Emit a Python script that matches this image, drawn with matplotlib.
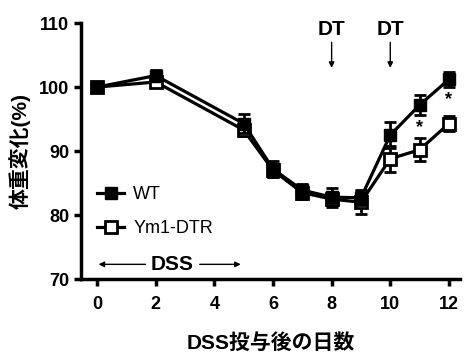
import numpy as np
import matplotlib
matplotlib.use("Agg")
from matplotlib import pyplot as plt
from matplotlib.lines import Line2D

plt.rcParams['font.family'] = ['Liberation Sans', 'Noto Sans CJK JP', 'DejaVu Sans']

# データ
days = [0, 2, 5, 6, 7, 8, 9, 10, 11, 12]
wt_mean = [100.0, 101.8, 94.3, 87.2, 83.9, 82.8, 82.7, 92.5, 97.2, 101.2]
wt_err = [0.5, 0.8, 1.5, 1.2, 1.0, 1.5, 1.2, 2.0, 1.5, 1.2]
ym1_mean = [100.0, 100.8, 93.3, 87.0, 83.5, 82.5, 82.0, 88.8, 90.2, 94.3]
ym1_err = [0.5, 0.6, 1.0, 1.0, 1.0, 1.0, 1.8, 2.0, 1.8, 1.2]

x_ticks = [0, 2, 4, 6, 8, 10, 12]
y_ticks = [70, 80, 90, 100, 110]
dt_days = [8, 10]
star_points = [(11, 93.6), (12, 98.0)]

fig = plt.figure(figsize=(4.68, 3.61), dpi=100)
ax = fig.add_axes([0.173, 0.227, 0.81, 0.709])

ax.errorbar(days, ym1_mean, yerr=ym1_err, color='black', lw=2.3,
            marker='s', markersize=8, markerfacecolor='white', markeredgewidth=2,
            capsize=4.3, capthick=2, elinewidth=2, zorder=3)
ax.errorbar(days, wt_mean, yerr=wt_err, color='black', lw=2.3,
            marker='s', markersize=8, markerfacecolor='black',
            capsize=4.3, capthick=2, elinewidth=2, zorder=4)

ax.set_xlim(-0.55, 12.38)
ax.set_ylim(70, 110)
ax.set_xticks(x_ticks)
ax.set_yticks(y_ticks)
for s in ['top', 'right']:
    ax.spines[s].set_visible(False)
for s in ['left', 'bottom']:
    ax.spines[s].set_linewidth(2.5)
ax.tick_params(width=2.5, length=5, labelsize=13)
ax.tick_params(axis='x', pad=7)
for lbl in ax.get_xticklabels() + ax.get_yticklabels():
    lbl.set_fontweight('bold')

ax.set_xlabel('DSS投与後の日数', fontsize=15, fontweight='bold', labelpad=15)
ax.set_ylabel('体重変化(%)', fontsize=15, fontweight='bold', labelpad=6)

# DT矢印
for d in dt_days:
    ax.text(d, 109.0, 'DT', ha='center', va='center', fontsize=15, fontweight='bold', clip_on=False)
    ax.annotate('', xy=(d, 103.0), xytext=(d, 107.0),
                arrowprops=dict(arrowstyle='-|>', lw=1, color='black', mutation_scale=8,
                                shrinkA=0, shrinkB=0))

# DSS期間
ax.text(2.55, 72.3, 'DSS', ha='center', va='center', fontsize=15, fontweight='bold')
ax.annotate('', xy=(0.05, 72.3), xytext=(1.65, 72.3),
            arrowprops=dict(arrowstyle='-|>', lw=1, color='black', mutation_scale=8,
                            shrinkA=0, shrinkB=0))
ax.annotate('', xy=(4.9, 72.3), xytext=(3.5, 72.3),
            arrowprops=dict(arrowstyle='-|>', lw=1, color='black', mutation_scale=8,
                            shrinkA=0, shrinkB=0))

for sx, sy in star_points:
    ax.text(sx, sy, '*', ha='center', va='center', fontsize=13, fontweight='bold')

handles = [
    Line2D([], [], color='black', lw=2.3, marker='s', markersize=8, markerfacecolor='black'),
    Line2D([], [], color='black', lw=2.3, marker='s', markersize=8, markerfacecolor='white',
           markeredgewidth=2),
]
ax.legend(handles, ['WT', 'Ym1-DTR'], loc='lower left', bbox_to_anchor=(0.0, 0.1),
          frameon=False, fontsize=13, handlelength=1.5, handletextpad=0.5, labelspacing=0.95)

fig.savefig('out.png', dpi=100)
